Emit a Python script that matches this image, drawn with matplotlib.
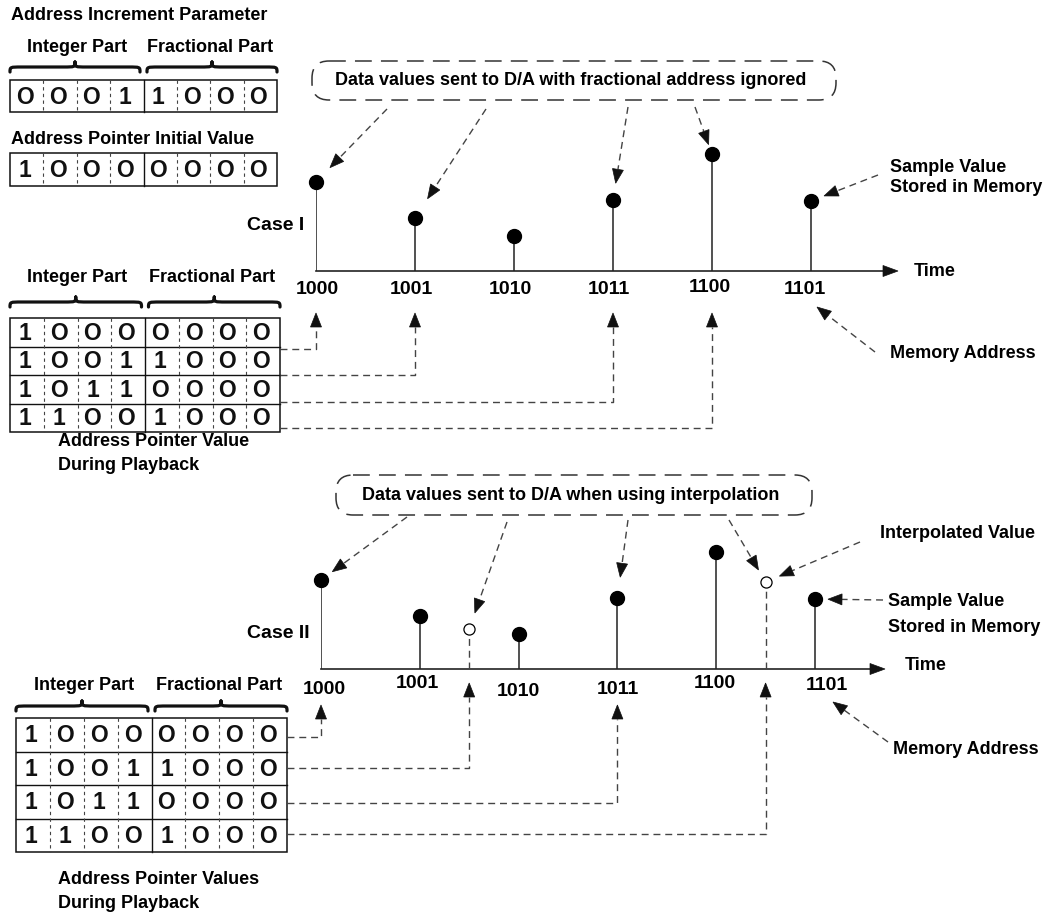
import numpy as np
import matplotlib.pyplot as plt
from matplotlib.patches import Polygon, Rectangle, FancyBboxPatch, PathPatch
from matplotlib.path import Path

plt.rcParams['font.family'] = ['Liberation Sans', 'DejaVu Sans']
plt.rcParams['font.weight'] = 'bold'

# data
addresses = ['1000', '1001', '1010', '1011', '1100', '1101']
sample_values = [89, 53, 35, 71, 117, 70]
interp_pos = [1.5, 4.5]
interp_values = [40, 87]

increment_bits = '00011000'
initial_bits = '10000000'
playback_bits = ['10000000', '10011000', '10110000', '11001000']

INK = '#111111'
DASH = '#444444'
FS = 13

fig = plt.figure(figsize=(10.6, 9.15), dpi=100)
ax = fig.add_axes([0, 0, 1, 1])
ax.set_xlim(0, 1060)
ax.set_ylim(915, 0)
ax.axis('off')


def stem_axes(x0, base, spacing, x_end, top=130):
    a = fig.add_axes([x0 / 1060, 1 - base / 915, (x_end - x0) / 1060, top / 915])
    a.set_xlim(0, (x_end - x0) / spacing)
    a.set_ylim(0, top)
    a.axis('off')
    return a


def to_px(a, x, y):
    return ax.transData.inverted().transform(a.transData.transform((x, y)))


def head(tip, frm, L=14, W=11, color=INK):
    tip = np.asarray(tip, float)
    u = tip - np.asarray(frm, float)
    u /= np.hypot(*u)
    n = np.array([-u[1], u[0]])
    b = tip - u * L
    ax.add_patch(Polygon([tip, b + n * W / 2, b - n * W / 2], closed=True,
                         fc=color, ec=color, lw=0.5, zorder=5))
    return b


def dashed_arrow(points, gap=0.0, color=DASH):
    pts = [np.asarray(p, float) for p in points]
    tip = pts[-1]
    if gap:
        u = tip - pts[-2]
        tip = tip - u / np.hypot(*u) * gap
    b = head(tip, pts[-2])
    xs = [p[0] for p in pts[:-1]] + [b[0]]
    ys = [p[1] for p in pts[:-1]] + [b[1]]
    ax.plot(xs, ys, color=color, lw=1.0, ls=(0, (5, 3.5)))


def brace(x0, x1, y, h=5):
    mid = (x0 + x1) / 2
    r = (x1 - x0) * 0.09
    verts = [(x0, y + h), (x0, y), (x0, y), (x0 + r, y),
             (mid - r, y), (mid, y), (mid, y), (mid, y - h),
             (mid, y), (mid, y), (mid + r, y),
             (x1 - r, y), (x1, y), (x1, y), (x1, y + h)]
    codes = [Path.MOVETO, Path.CURVE4, Path.CURVE4, Path.CURVE4,
             Path.LINETO, Path.CURVE4, Path.CURVE4, Path.CURVE4,
             Path.CURVE4, Path.CURVE4, Path.CURVE4,
             Path.LINETO, Path.CURVE4, Path.CURVE4, Path.CURVE4]
    ax.add_patch(PathPatch(Path(verts, codes), fill=False, lw=2.3, ec=INK,
                           capstyle='round', joinstyle='round'))


def table(x0, x1, y0, y1, rows, dx=-2):
    n = len(rows)
    rh = (y1 - y0) / n
    cw = (x1 - x0) / 8
    ax.add_patch(Rectangle((x0, y0), x1 - x0, y1 - y0, fill=False, lw=1.1, ec=INK))
    for r in range(1, n):
        ax.plot([x0, x1], [y0 + r * rh] * 2, color=INK, lw=1.0)
    ax.plot([x0 + 4 * cw] * 2, [y0, y1], color=INK, lw=1.0)
    for j in (1, 2, 3, 5, 6, 7):
        ax.plot([x0 + j * cw] * 2, [y0, y1], color=DASH, lw=0.8, ls=(0, (3, 3)))
    for r, bits in enumerate(rows):
        for j, b in enumerate(bits):
            ax.text(x0 + (j + 0.5) * cw + dx, y0 + (r + 0.5) * rh + 1,
                    'O' if b == '0' else '1', ha='center', va='center',
                    fontsize=16.5, fontweight='bold', color=INK)


def part_labels(x0, x1, ytxt, ybr, gap=7):
    mid = (x0 + x1) / 2
    ax.text((x0 + mid) / 2, ytxt, 'Integer Part', ha='center', va='center', fontsize=FS)
    ax.text((mid + x1) / 2, ytxt, 'Fractional Part', ha='center', va='center', fontsize=FS)
    brace(x0, mid - gap / 2, ybr)
    brace(mid + gap / 2, x1, ybr)


def bubble(x0, y0, x1, y1, text):
    ax.add_patch(FancyBboxPatch((x0, y0), x1 - x0, y1 - y0,
                                boxstyle='round,pad=0,rounding_size=17',
                                fill=False, lw=1.1, ec='#333333', ls=(0, (11, 6))))
    ax.text((x0 + x1) / 2 - 3, (y0 + y1) / 2, text, ha='center', va='center', fontsize=FS)


def stems(a, x_end):
    idx = np.arange(len(sample_values))
    a.vlines(idx, 0, sample_values, colors='#222222', lw=1.1)
    a.plot(idx, sample_values, 'o', ms=10, color='black', clip_on=False, zorder=4)
    s = to_px(a, 0, 0)
    e = (x_end, s[1])
    b = head(e, s, L=15, W=11)
    ax.plot([s[0], b[0]], [s[1], s[1]], color='#222222', lw=1.2)


def tick_labels(a, dxs, dys):
    for i, lab in enumerate(addresses):
        p = to_px(a, i, 0)
        ax.text(p[0] + dxs[i], p[1] + dys[i], lab, ha='center', va='center', fontsize=14)


# ---------- top left: increment parameter ----------
ax.text(11, 16, 'Address Increment Parameter', ha='left', va='center', fontsize=FS)
part_labels(10, 277, 47, 67)
table(10, 277, 80, 112, [increment_bits])
ax.text(11, 140, 'Address Pointer Initial Value', ha='left', va='center', fontsize=FS)
table(10, 277, 153, 186, [initial_bits])

# ---------- Case I ----------
ax1 = stem_axes(316, 271, 99, 898)
stems(ax1, 898)
tick_labels(ax1, [1, -4, -4, -4, -2, -6], [19, 19, 19, 19, 17, 19])
ax.text(247, 226, 'Case I', ha='left', va='center', fontsize=14)
ax.text(914, 272, 'Time', ha='left', va='center', fontsize=FS)

bubble(312, 61, 836, 100, 'Data values sent to D/A with fractional address ignored')
bub1_starts = [(387, 109), (486, 109), (628, 107), (695, 107)]
bub1_targets = [0, 1, 3, 4]
bub1_gaps = [20, 23, 17, 10]
for st, t, g in zip(bub1_starts, bub1_targets, bub1_gaps):
    dashed_arrow([st, to_px(ax1, t, sample_values[t])], gap=g)

ax.text(890, 167, 'Sample Value', ha='left', va='center', fontsize=FS)
ax.text(890, 188, 'Stored in Memory', ha='left', va='center', fontsize=FS)
dashed_arrow([(878, 175), to_px(ax1, 5, sample_values[5])], gap=14)
ax.text(890, 354, 'Memory Address', ha='left', va='center', fontsize=FS)
p = to_px(ax1, 5, 0)
dashed_arrow([(875, 352), (p[0] + 6, p[1] + 36)])

part_labels(10, 280, 278, 302)
table(10, 280, 318, 432, playback_bits)
ax.text(58, 442, 'Address Pointer Value', ha='left', va='center', fontsize=FS)
ax.text(58, 466, 'During Playback', ha='left', va='center', fontsize=FS)

base_int = int(initial_bits[:4], 2)
lead1_y = [349, 375, 402, 428]
for bits, ly in zip(playback_bits, lead1_y):
    i = int(bits[:4], 2) - base_int
    p = to_px(ax1, i, 0)
    dashed_arrow([(280, ly), (p[0], ly), (p[0], p[1] + 42)])

# ---------- Case II ----------
ax2 = stem_axes(321, 669, 98.8, 885)
stems(ax2, 885)
ax2.vlines(interp_pos, 0, interp_values, colors=DASH, lw=1.0, linestyles=[(0, (5, 3.5))])
ax2.plot(interp_pos, interp_values, 'o', ms=8, mfc='white', mec='black', mew=0.9,
         clip_on=False, zorder=4)
tick_labels(ax2, [3, -2, 0, 0, -1, 12], [21, 14, 22, 21, 14, 16])
ax.text(247, 634, 'Case II', ha='left', va='center', fontsize=14)
ax.text(905, 665, 'Time', ha='left', va='center', fontsize=FS)

bubble(336, 475, 812, 515, 'Data values sent to D/A when using interpolation')
dashed_arrow([(407, 517), to_px(ax2, 0, sample_values[0])], gap=14)
dashed_arrow([(507, 522), to_px(ax2, interp_pos[0], interp_values[0])], gap=17)
dashed_arrow([(628, 520), to_px(ax2, 3, sample_values[3])], gap=21)
dashed_arrow([(729, 520), to_px(ax2, interp_pos[1], interp_values[1])], gap=14)

ax.text(880, 534, 'Interpolated Value', ha='left', va='center', fontsize=FS)
dashed_arrow([(860, 542), to_px(ax2, interp_pos[1], interp_values[1])], gap=15)
ax.text(888, 602, 'Sample Value', ha='left', va='center', fontsize=FS)
ax.text(888, 628, 'Stored in Memory', ha='left', va='center', fontsize=FS)
dashed_arrow([(883, 600), to_px(ax2, 5, sample_values[5])], gap=13)
ax.text(893, 750, 'Memory Address', ha='left', va='center', fontsize=FS)
p = to_px(ax2, 5, 0)
dashed_arrow([(888, 742), (p[0] + 18, p[1] + 33)])

part_labels(16, 287, 685, 706)
table(16, 287, 718, 852, playback_bits)
ax.text(58, 880, 'Address Pointer Values', ha='left', va='center', fontsize=FS)
ax.text(58, 903, 'During Playback', ha='left', va='center', fontsize=FS)

lead2_y = [737, 768, 803, 834]
for bits, ly in zip(playback_bits, lead2_y):
    pos = int(bits, 2) / 16 - base_int
    p = to_px(ax2, pos, 0)
    tip_dy = 14 if pos % 1 else 36
    dashed_arrow([(287, ly), (p[0], ly), (p[0], p[1] + tip_dy)])

fig.savefig('out.png', dpi=100, facecolor='white')
